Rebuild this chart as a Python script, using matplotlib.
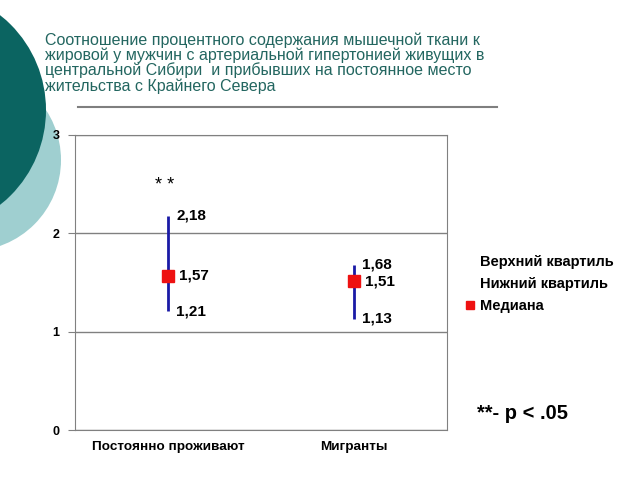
import matplotlib.pyplot as plt
from matplotlib.patches import Circle
from matplotlib.lines import Line2D

plt.rcParams['font.family'] = ['Liberation Sans', 'DejaVu Sans']

# data
groups = ['Постоянно проживают', 'Мигранты']
upper_q = [2.18, 1.68]
median = [1.57, 1.51]
lower_q = [1.21, 1.13]
upper_lbl = ['2,18', '1,68']
median_lbl = ['1,57', '1,51']
lower_lbl = ['1,21', '1,13']
yticks = [0, 1, 2, 3]

title = ('Соотношение процентного содержания мышечной ткани к\n'
         'жировой у мужчин с артериальной гипертонией живущих в\n'
         'центральной Сибири  и прибывших на постоянное место\n'
         'жительства с Крайнего Севера')

fig = plt.figure(figsize=(6.4, 4.8), dpi=100)

# slide background: circles, title, rule
bg = fig.add_axes([0, 0, 1, 1], zorder=0)
bg.set_xlim(0, 640)
bg.set_ylim(480, 0)
bg.axis('off')
bg.add_patch(Circle((-30, 160), 91, color='#9fcfd0', lw=0))
bg.add_patch(Circle((-75, 110), 121, color='#0b6461', lw=0))
bg.text(45, 32, title, fontsize=11.5, color='#236660', va='top', ha='left',
        linespacing=0.98)
bg.plot([78, 497], [107, 107], color='#7f7f7f', lw=1.5)

ax = fig.add_axes([0.117, 0.104, 0.581, 0.615], zorder=1)
ax.patch.set_alpha(0)
x = range(len(groups))
ax.vlines(x, lower_q, upper_q, color='#1a1aa6', lw=2, zorder=3)
ax.plot(x, median, 's', color='#ee1111', ms=8, zorder=4, linestyle='none')

for i in x:
    ax.annotate(upper_lbl[i], (i, upper_q[i]), xytext=(6, 0), textcoords='offset points',
                va='center', ha='left', fontsize=11, fontweight='bold')
    ax.annotate(median_lbl[i], (i, median[i]), xytext=(8, 0), textcoords='offset points',
                va='center', ha='left', fontsize=11, fontweight='bold')
    ax.annotate(lower_lbl[i], (i, lower_q[i]), xytext=(6, 0), textcoords='offset points',
                va='center', ha='left', fontsize=11, fontweight='bold')

ax.annotate('* *', (0, upper_q[0]), xytext=(-2, 22), textcoords='offset points',
            ha='center', va='center', fontsize=13)

ax.set_xlim(-0.5, 1.5)
ax.set_ylim(0, 3)
ax.set_yticks(yticks)
ax.set_yticklabels([str(t) for t in yticks], fontsize=9, fontweight='bold')
ax.set_xticks(list(x))
ax.set_xticklabels(groups, fontsize=9.7, fontweight='bold')
ax.tick_params(axis='x', length=0, pad=8)
ax.tick_params(axis='y', length=5, color='#808080', pad=6)
ax.grid(axis='y', color='#808080', lw=1)
ax.set_axisbelow(True)
for s in ax.spines.values():
    s.set_color('#808080')

handles = [Line2D([], [], linestyle='none'),
           Line2D([], [], linestyle='none'),
           Line2D([], [], marker='s', color='#ee1111', linestyle='none', ms=6)]
fig.legend(handles, ['Верхний квартиль', 'Нижний квартиль', 'Медиана'],
           loc='upper left', bbox_to_anchor=(0.704, 0.497), frameon=False,
           prop={'size': 10.5, 'weight': 'bold'}, handlelength=0.8,
           handletextpad=0.3, labelspacing=0.55)

fig.text(0.745, 0.138, '**- p < .05', fontsize=14.5, fontweight='bold', va='center')

fig.savefig('out.png', dpi=100)
